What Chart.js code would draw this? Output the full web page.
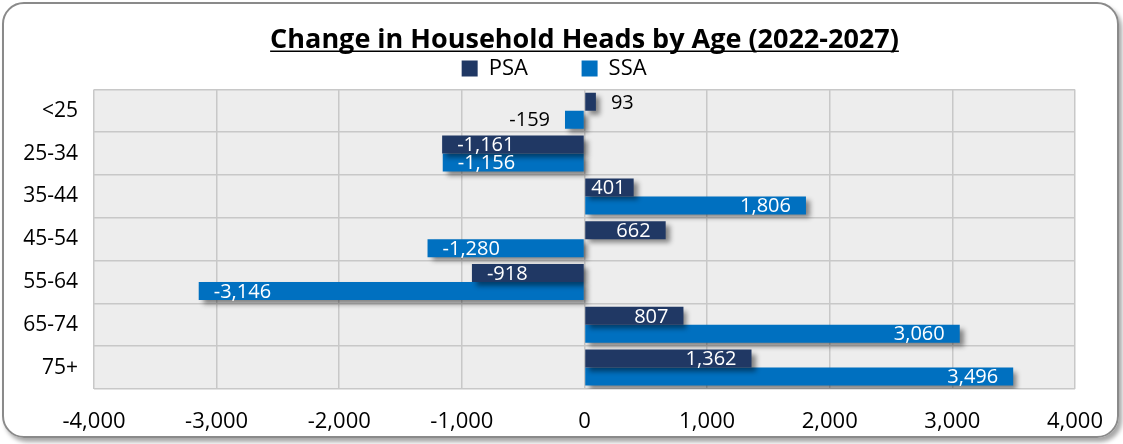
<!DOCTYPE html>
<html>
<head>
<meta charset="utf-8">
<script src="https://cdn.jsdelivr.net/npm/chart.js@4.4.1/dist/chart.umd.min.js"></script>
<style>
  body { margin: 0; background: #fff; }
  #moldura {
    position: absolute; left: 2px; top: 2px; width: 1113px; height: 432px;
    border: 2px solid #8a8a8a; border-radius: 22px;
    box-shadow: 3px 4px 4px rgba(0,0,0,0.35);
  }
  #grafico { position: absolute; left: 0; top: 0; }
</style>
</head>
<body>
<div id="moldura"></div>
<canvas id="grafico" width="1123" height="444"></canvas>
<script>
// Dados do gráfico
const faixas = ['<25', '25-34', '35-44', '45-54', '55-64', '65-74', '75+'];
const psa = [93, -1161, 401, 662, -918, 807, 1362];
const ssa = [-159, -1156, 1806, -1280, -3146, 3060, 3496];
const ticksX = [-4000, -3000, -2000, -1000, 0, 1000, 2000, 3000, 4000];

const fonte = "'Open Sans', sans-serif";
const tamTitulo = 27;
const fmt = v => v.toLocaleString('en-US');

// Fundo cinza da área do gráfico
const fundoPlot = {
    id: 'fundoPlot',
    beforeDraw(chart) {
        const { ctx, chartArea: a } = chart;
        ctx.save();
        ctx.fillStyle = '#ededed';
        ctx.fillRect(a.left, a.top, a.right - a.left, a.bottom - a.top);
        ctx.restore();
    }
};

// Sombra nas barras
const sombra = {
    id: 'sombra',
    beforeDatasetsDraw(chart) {
        const ctx = chart.ctx;
        ctx.save();
        ctx.shadowColor = 'rgba(0,0,0,0.45)';
        ctx.shadowBlur = 5;
        ctx.shadowOffsetX = 4;
        ctx.shadowOffsetY = 4;
    },
    afterDatasetsDraw(chart) {
        chart.ctx.restore();
    }
};

// Rótulos dos valores e sublinhado do título
const rotulos = {
    id: 'rotulos',
    afterDraw(chart) {
        const ctx = chart.ctx;
        ctx.save();
        ctx.font = '20px ' + fonte;
        ctx.textBaseline = 'middle';
        chart.data.datasets.forEach((ds, i) => {
            chart.getDatasetMeta(i).data.forEach((bar, j) => {
                const v = ds.data[j];
                const txt = fmt(v);
                const w = ctx.measureText(txt).width;
                const larg = Math.abs(bar.x - bar.base);
                const pad = 15;
                let x;
                if (larg < w + 8) {
                    ctx.fillStyle = '#000';
                    if (v >= 0) { ctx.textAlign = 'left'; x = bar.x + pad; }
                    else { ctx.textAlign = 'right'; x = bar.x - pad; }
                } else {
                    ctx.fillStyle = '#fff';
                    if (v >= 0) {
                        ctx.textAlign = 'right';
                        x = Math.max(bar.x - pad, bar.base + w + 6);
                    } else {
                        ctx.textAlign = 'left';
                        x = Math.min(bar.x + pad, bar.base - w - 6);
                    }
                }
                ctx.fillText(txt, x, bar.y + 1);
            });
        });
        // sublinhado do título
        const t = chart.titleBlock;
        if (t) {
            ctx.font = 'bold ' + tamTitulo + 'px ' + fonte;
            const txt = chart.options.plugins.title.text;
            const w = ctx.measureText(txt).width;
            const cx = (t.left + t.right) / 2;
            const y = t.top + t.options.padding.top + tamTitulo * 0.6 + 11;
            ctx.strokeStyle = '#000';
            ctx.lineWidth = 1.6;
            ctx.beginPath();
            ctx.moveTo(cx - w / 2, y);
            ctx.lineTo(cx + w / 2, y);
            ctx.stroke();
        }
        ctx.restore();
    }
};

new Chart(document.getElementById('grafico'), {
    type: 'bar',
    data: {
        labels: faixas,
        datasets: [
            { label: 'PSA', data: psa, backgroundColor: '#203864' },
            { label: 'SSA', data: ssa, backgroundColor: '#0070c0' }
        ]
    },
    options: {
        indexAxis: 'y',
        responsive: false,
        animation: false,
        categoryPercentage: 0.84,
        barPercentage: 1,
        layout: { padding: { top: 0, left: 0, right: 37, bottom: 0 } },
        plugins: {
            title: {
                display: true,
                fullSize: false,
                text: 'Change in Household Heads by Age (2022-2027)',
                color: '#000',
                font: { family: fonte, size: tamTitulo, weight: 'bold' },
                padding: { top: 24, bottom: -3 }
            },
            legend: {
                fullSize: false,
                labels: {
                    color: '#000',
                    font: { family: fonte, size: 22 },
                    boxWidth: 16,
                    boxHeight: 16,
                    padding: 4,
                    generateLabels: chart => Chart.defaults.plugins.legend.labels.generateLabels(chart)
                        .map((l, i) => ({ ...l, text: i === 0 ? l.text + '\u2003\u2003 ' : l.text + '\u2003\u2003\u2002 ' }))
                }
            },
            tooltip: { enabled: false }
        },
        scales: {
            x: {
                min: -4000,
                max: 4000,
                afterBuildTicks: s => { s.ticks = ticksX.map(v => ({ value: v })); },
                afterFit: s => { s.height = 55; },
                grid: { color: '#c8c8c8', lineWidth: 1.5, drawTicks: false },
                border: { display: false },
                ticks: {
                    color: '#000',
                    padding: 20,
                    font: { family: fonte, size: 22 },
                    callback: v => fmt(v)
                }
            },
            y: {
                afterFit: s => { s.width = 94; },
                grid: { color: '#c8c8c8', lineWidth: 1.5, offset: true, drawTicks: false },
                border: { display: false },
                ticks: {
                    color: '#000',
                    padding: 16,
                    font: { family: fonte, size: 21 }
                }
            }
        }
    },
    plugins: [fundoPlot, sombra, rotulos]
});
</script>
</body>
</html>
